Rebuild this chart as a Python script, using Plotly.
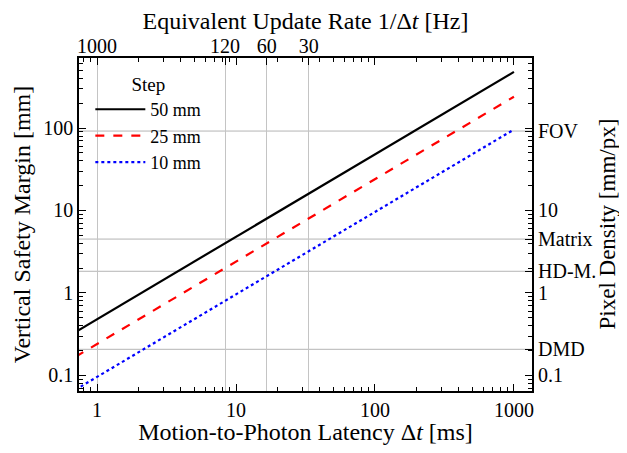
import plotly.graph_objects as go

# Data
latency_ms = [0.7, 1, 10, 100, 1000]
margin_50 = [0.336, 0.48, 4.8, 48, 480]
margin_25 = [0.168, 0.24, 2.4, 24, 240]
margin_10 = [0.067, 0.096, 0.96, 9.6, 96]
series_names = ["50 mm", "25 mm", "10 mm"]

rate_ticks_ms = [1, 8.333, 16.667, 33.333]
rate_labels = ["1000", "120", "60", "30"]

density_vals = [92, 10, 4.5, 1.83, 1, 0.207, 0.1]
density_labels = ["FOV", "10", "Matrix", "HD-M.", "1", "DMD", "0.1"]
named_density = [92, 4.5, 1.83, 0.207]

FONT = "Liberation Serif, Times New Roman, serif"
xr = [-0.13, 3.13]
yr = [-1.19, 2.85]

fig = go.Figure()
styles = [("black", "solid"), ("red", "dash"), ("blue", "dot")]
for name, ys, (c, d) in zip(series_names, [margin_50, margin_25, margin_10], styles):
    fig.add_trace(go.Scatter(x=latency_ms, y=ys, mode="lines", name=name,
                             line=dict(color=c, dash=d, width=2.2)))

# dummy trace to activate secondary axes
fig.add_trace(go.Scatter(x=[1], y=[1], xaxis="x2", yaxis="y2", mode="markers",
                         marker=dict(opacity=0), showlegend=False, hoverinfo="skip"))

for v in named_density:
    fig.add_shape(type="line", xref="paper", x0=0, x1=1, yref="y", y0=v, y1=v,
                  line=dict(color="#b4b4b4", width=1), layer="below")

tickfont = dict(family=FONT, size=20, color="black")
titlefont = dict(family=FONT, size=24, color="black")
fig.update_layout(
    width=611, height=437,
    margin=dict(l=71, r=87, t=50, b=54, autoexpand=False),
    plot_bgcolor="white", paper_bgcolor="white",
    font=dict(family=FONT, size=20, color="black"),
    xaxis=dict(type="log", range=xr, showgrid=False, zeroline=False,
               showline=True, linecolor="black", linewidth=1.5, mirror="ticks",
               ticks="inside", ticklen=7, tickwidth=1, tickcolor="black",
               tickvals=[1, 10, 100, 1000], ticktext=["1", "10", "100", "1000"],
               tickfont=tickfont,
               minor=dict(ticks="inside", ticklen=4, tickcolor="black",
                          tickvals=[0.8, 0.9] + [m * 10 ** e for e in range(0, 3) for m in range(2, 10)]
                          ),
               title=dict(text="Motion-to-Photon Latency Δ<i>t</i> [ms]",
                          font=titlefont, standoff=5)),
    xaxis2=dict(type="log", range=xr, overlaying="x", side="top",
                showgrid=True, gridcolor="#c4c4c4", gridwidth=1,
                ticks="inside", ticklen=7, tickcolor="black",
                tickvals=rate_ticks_ms, ticktext=rate_labels, tickfont=tickfont,
                showline=False, zeroline=False,
                title=dict(text="Equivalent Update Rate 1/Δ<i>t</i> [Hz]",
                           font=titlefont, standoff=2)),
    yaxis=dict(type="log", range=yr, showgrid=False, zeroline=False,
               showline=True, linecolor="black", linewidth=1.5, mirror="ticks",
               ticks="inside", ticklen=7, tickcolor="black",
               tickvals=[0.1, 1, 10, 100], ticktext=["0.1", "1", "10", "100"],
               tickfont=tickfont,
               minor=dict(ticks="inside", ticklen=4, tickcolor="black",
                          tickvals=[0.07, 0.08, 0.09] + [m * 10 ** e for e in range(-1, 3) for m in range(2, 10)]),
               title=dict(text="Vertical Safety Margin [mm]",
                          font=titlefont, standoff=6)),
    yaxis2=dict(type="log", range=yr, overlaying="y", side="right",
                showgrid=False, zeroline=False, showline=False,
                ticks="inside", ticklen=7, tickcolor="black",
                tickvals=density_vals, ticktext=density_labels, tickfont=tickfont,
                ticklabelstandoff=5),
    legend=dict(x=0.025, y=0.975, xanchor="left", yanchor="top",
                bgcolor="rgba(0,0,0,0)", borderwidth=0,
                font=dict(family=FONT, size=18),
                title=dict(text="Step", side="top center", font=dict(family=FONT, size=19)),
                itemwidth=50, tracegroupgap=0),
    annotations=[dict(text="Pixel Density [mm/px]", xref="paper", yref="paper",
                      x=1, y=0.5, xanchor="center", yanchor="middle",
                      xshift=75, textangle=-90, showarrow=False,
                      font=dict(family=FONT, size=23, color="black"))],
)

fig.write_html("out.html")
